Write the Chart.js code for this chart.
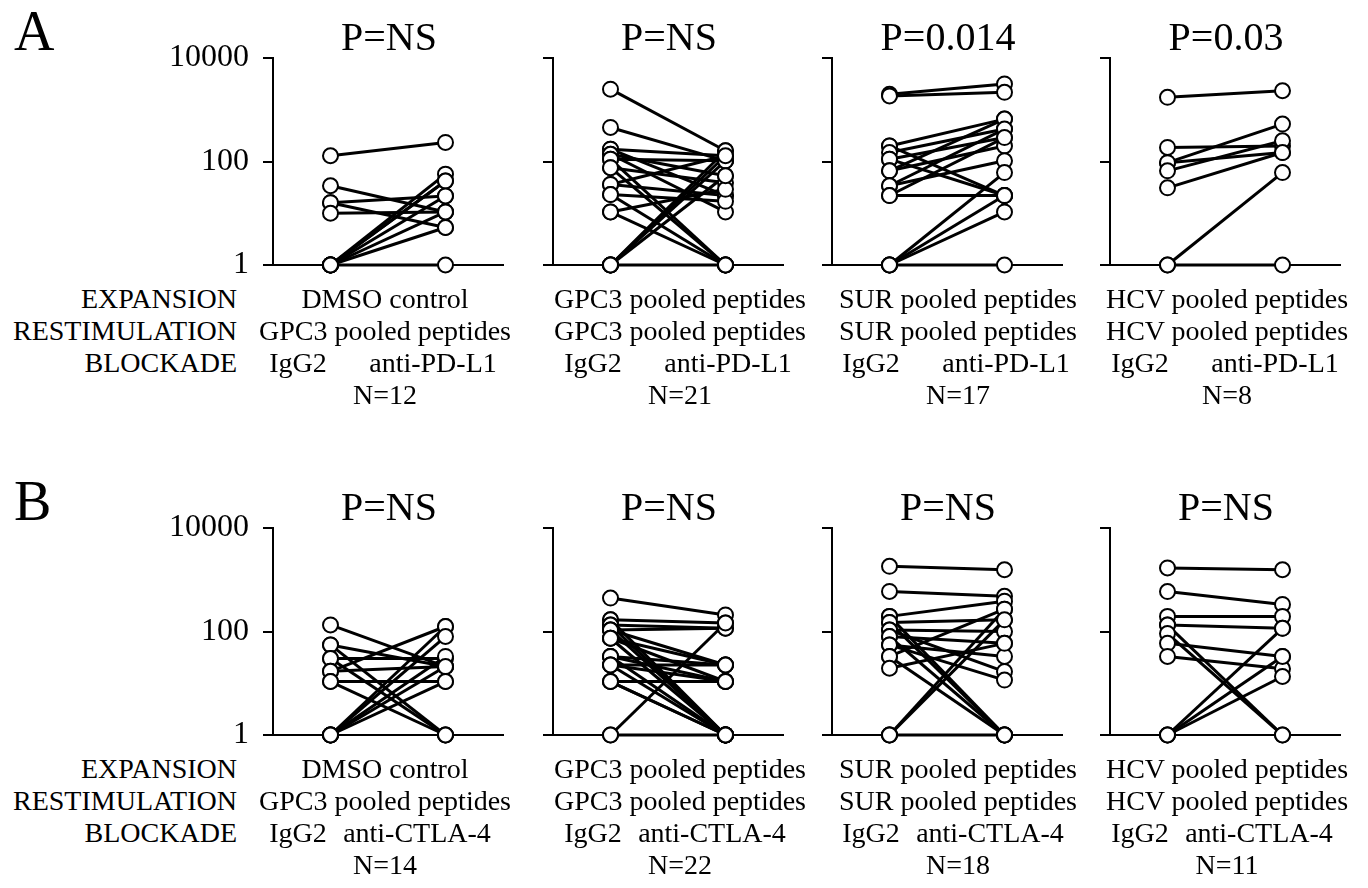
<!DOCTYPE html>
<html>
<head>
<meta charset="utf-8">
<title>IgG2 vs blockade paired responses</title>
<script src="https://cdn.jsdelivr.net/npm/chart.js@4.4.1/dist/chart.umd.min.js"></script>
<style>
  html, body { margin: 0; padding: 0; background: #fff; }
  #figure {
    position: relative; width: 1368px; height: 888px; overflow: hidden;
    font-family: "Liberation Serif", "Times New Roman", serif; color: #000;
  }
  #figure canvas { position: absolute; }
  .txt { position: absolute; white-space: nowrap; line-height: 1; width: 400px; }
</style>
</head>
<body>
<div id="figure"></div>
<script>
// Labels
var rowLetters = ['A', 'B'];
var blockadeNames = ['anti-PD-L1', 'anti-CTLA-4'];
var controlName = 'IgG2';
var expansionNames = ['DMSO control', 'GPC3 pooled peptides', 'SUR pooled peptides', 'HCV pooled peptides'];
var restimNames = ['GPC3 pooled peptides', 'GPC3 pooled peptides', 'SUR pooled peptides', 'HCV pooled peptides'];
var pdl1PValues = ['P=NS', 'P=NS', 'P=0.014', 'P=0.03'];
var ctla4PValues = ['P=NS', 'P=NS', 'P=NS', 'P=NS'];
var tickValues = [1, 100, 10000];

// Row A (anti-PD-L1): paired values, IgG2 then blockade, same order
var pdl1DmsoIgg  = [129, 34, 16, 16, 10, 1, 1, 1, 1, 1, 1, 1];
var pdl1DmsoAnti = [234, 10.6, 21.6, 5.3, 10.6, 57, 42, 42, 21.6, 10.6, 1, 5.3];
var pdl1Gpc3Igg  = [2500, 455, 173, 173, 138, 138, 111, 111, 76, 76, 36, 36, 23, 23, 10.6, 10.6, 1, 1, 1, 1, 1];
var pdl1Gpc3Anti = [161, 103, 129, 22, 53, 10.6, 1, 103, 39, 1, 22, 129, 1, 17, 1, 29, 161, 103, 53, 1, 129];
var pdl1SurIgg   = [2000, 1850, 200, 200, 149, 111, 111, 66, 66, 34, 34, 22, 22, 1, 1, 1, 1];
var pdl1SurAnti  = [3150, 2170, 660, 22, 423, 290, 22, 660, 200, 423, 103, 22, 290, 61, 22, 10.6, 1];
var pdl1HcvIgg   = [1740, 187, 95, 95, 66, 31, 1, 1];
var pdl1HcvAnti  = [2330, 200, 528, 149, 252, 149, 61, 1];

// Row B (anti-CTLA-4)
var ctla4DmsoIgg  = [134, 55, 55, 30, 30, 17, 17, 10.8, 10.8, 1, 1, 1, 1, 1];
var ctla4DmsoAnti = [21, 21, 1, 30, 1, 125, 21, 10.8, 1, 125, 33, 21, 10.8, 80];
var ctla4Gpc3Igg  = [442, 168, 168, 133, 133, 107, 107, 107, 74, 74, 74, 33, 33, 33, 22.5, 22.5, 22.5, 10.8, 10.8, 10.8, 1, 1];
var ctla4Gpc3Anti = [209, 146, 1, 116, 1, 22.5, 1, 116, 1, 10.8, 22.5, 22.5, 1, 10.8, 22.5, 1, 10.8, 10.8, 1, 1, 146, 1];
var ctla4SurIgg   = [1820, 595, 196, 196, 150, 150, 107, 107, 80, 80, 55, 55, 33, 33, 19.5, 1, 1, 1];
var ctla4SurAnti  = [1560, 480, 385, 1, 168, 1, 100, 16.8, 59, 1, 33, 11.5, 270, 1, 59, 270, 168, 1];
var ctla4HcvIgg   = [1690, 590, 196, 133, 133, 91, 59, 33, 1, 1, 1];
var ctla4HcvAnti  = [1560, 333, 196, 115, 1, 1, 33, 19, 115, 33, 13.5];

// Layout
var FONT = '"Liberation Serif", "Times New Roman", serif';
var axisX = [273, 553, 832, 1110];
var textCenter = [385, 680, 958, 1227];
var rowTop = [58, 528];
var rowShift = 470;
var plotW = 230, plotH = 207;
var yAxisW = 130, padR = 12, padV = 20;

var fig = document.getElementById('figure');

function addText(str, x, baseline, size, align) {
    var el = document.createElement('div');
    el.className = 'txt';
    el.textContent = str;
    el.style.fontSize = size + 'px';
    el.style.textAlign = align;
    el.style.top = (baseline - 0.84 * size) + 'px';
    if (align === 'center') {
        el.style.left = (x - 200) + 'px';
    } else if (align === 'right') {
        el.style.left = (x - 400) + 'px';
    } else {
        el.style.left = x + 'px';
    }
    fig.appendChild(el);
}

function makePanel(row, col, igg, anti) {
    var canvas = document.createElement('canvas');
    canvas.width = yAxisW + plotW + padR;
    canvas.height = plotH + 2 * padV;
    canvas.style.left = (axisX[col] - yAxisW) + 'px';
    canvas.style.top = (rowTop[row] - padV) + 'px';
    fig.appendChild(canvas);

    // open circles go on top of the connecting lines
    var points = igg.map(function (v) { return { x: 0, y: v }; })
        .concat(anti.map(function (v) { return { x: 1, y: v }; }));
    var datasets = [{
        data: points,
        showLine: false,
        pointRadius: 7.5,
        pointBorderWidth: 2,
        pointBackgroundColor: '#fff',
        pointBorderColor: '#000',
        clip: false,
        order: 0
    }];
    igg.forEach(function (v, i) {
        datasets.push({
            data: [{ x: 0, y: v }, { x: 1, y: anti[i] }],
            borderColor: '#000',
            borderWidth: 3,
            pointRadius: 0,
            clip: false,
            order: 1
        });
    });

    new Chart(canvas, {
        type: 'line',
        data: { datasets: datasets },
        options: {
            responsive: false,
            animation: false,
            layout: { padding: { left: 0, right: padR, top: padV, bottom: padV } },
            plugins: { legend: { display: false }, tooltip: { enabled: false } },
            scales: {
                x: {
                    type: 'linear', min: -0.5, max: 1.5,
                    ticks: { display: false },
                    grid: { display: false },
                    border: { display: true, color: '#000', width: 2 },
                    afterFit: function (s) { s.height = 0; }
                },
                y: {
                    type: 'logarithmic', min: 1, max: 10000,
                    afterBuildTicks: function (s) {
                        s.ticks = tickValues.map(function (v) { return { value: v }; });
                    },
                    afterFit: function (s) {
                        // keep plot area identical whether labels are shown or not
                        s.width = yAxisW;
                        s.paddingTop = 0;
                        s.paddingBottom = 0;
                    },
                    ticks: {
                        display: col === 0,
                        color: '#000',
                        padding: 14,
                        font: { family: FONT, size: 32, lineHeight: 1 },
                        callback: function (v) { return String(v); }
                    },
                    grid: {
                        drawOnChartArea: false, drawTicks: true, tickLength: 10,
                        color: '#000', lineWidth: 2
                    },
                    border: { display: true, color: '#000', width: 2 }
                }
            }
        }
    });
}

var panels = [
    [[pdl1DmsoIgg, pdl1DmsoAnti], [pdl1Gpc3Igg, pdl1Gpc3Anti], [pdl1SurIgg, pdl1SurAnti], [pdl1HcvIgg, pdl1HcvAnti]],
    [[ctla4DmsoIgg, ctla4DmsoAnti], [ctla4Gpc3Igg, ctla4Gpc3Anti], [ctla4SurIgg, ctla4SurAnti], [ctla4HcvIgg, ctla4HcvAnti]]
];
var pValues = [pdl1PValues, ctla4PValues];
var antiOffset = [48, 32];

for (var r = 0; r < 2; r++) {
    var dy = r * rowShift;
    addText(rowLetters[r], 14, 50 + dy, 56, 'left');
    addText('EXPANSION', 237, 309 + dy, 28, 'right');
    addText('RESTIMULATION', 237, 341 + dy, 28, 'right');
    addText('BLOCKADE', 237, 373 + dy, 28, 'right');

    for (var c = 0; c < 4; c++) {
        var igg = panels[r][c][0], anti = panels[r][c][1];
        makePanel(r, c, igg, anti);
        addText(pValues[r][c], axisX[c] + 116, 51 + dy, 40, 'center');
        addText(expansionNames[c], textCenter[c], 309 + dy, 28, 'center');
        addText(restimNames[c], textCenter[c], 341 + dy, 28, 'center');
        addText(controlName, textCenter[c] - 87, 373 + dy, 28, 'center');
        addText(blockadeNames[r], textCenter[c] + antiOffset[r], 373 + dy, 28, 'center');
        addText('N=' + igg.length, textCenter[c], 405 + dy, 28, 'center');
    }
}
</script>
</body>
</html>
